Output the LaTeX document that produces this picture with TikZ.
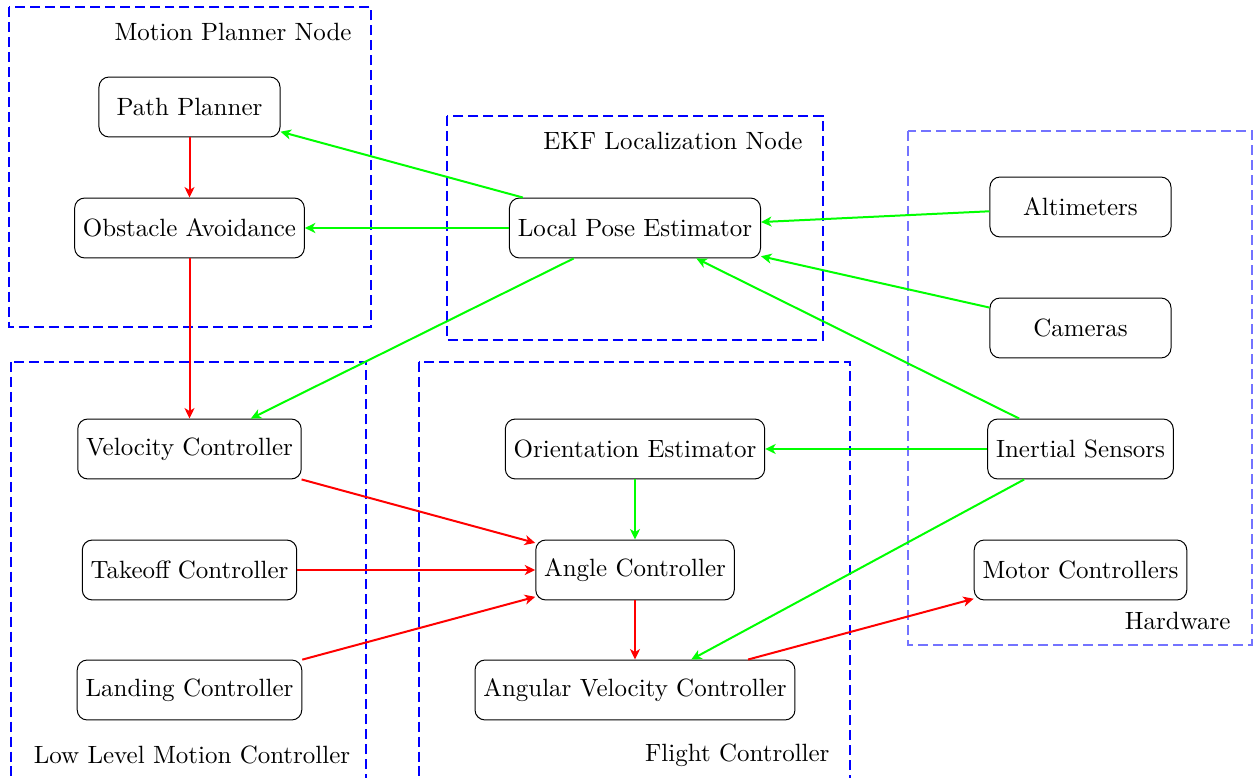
\documentclass[tikz,border=0pt]{standalone}
\usetikzlibrary{arrows.meta}
\begin{document}
\begin{tikzpicture}[x=0.4005pt,y=-0.4005pt,
  blk/.style={draw,rounded corners=4pt,minimum width=72.5pt,minimum height=24pt,inner sep=3.33pt},
  grp/.style={draw=blue,dash pattern=on 4pt off 2pt,line width=0.5pt},
  lbl/.style={inner sep=0pt},
  ga/.style={draw=green,line width=0.8pt,-{Stealth[length=4.2pt,width=4pt,inset=1.2pt]}},
  ra/.style={draw=red,line width=0.8pt,-{Stealth[length=4.2pt,width=4pt,inset=1.2pt]}}]
\useasboundingbox (0,0) rectangle (1253,778);
\begin{scope}
\clip (0,0) rectangle (1253,778);
% groups
\draw[grp] (9,7) rectangle (371,327);
\draw[grp] (447,116) rectangle (823,340);
\draw[grp,draw=blue!55] (908,131) rectangle (1252,645);
\draw[grp] (11,362) rectangle (366,800);
\draw[grp] (419,362) rectangle (850,800);
\end{scope}
\node[lbl,anchor=base east] (lmp) at (352,41) {Motion Planner Node};
\node[lbl,anchor=base east] (lekf) at (803,150) {EKF Localization Node};
\node[lbl,anchor=base east] (lhw) at (1231,630) {Hardware};
\node[lbl,anchor=base] (llow) at (192,763) {Low Level Motion Controller};
\node[lbl,anchor=base east] (lfc) at (830,761) {Flight Controller};
% nodes
\node[blk] (pp) at (189.5,107) {Path Planner};
\node[blk] (oa) at (189.5,228) {Obstacle Avoidance};
\node[blk] (vc) at (189.5,449) {Velocity Controller};
\node[blk] (tc) at (189.5,570) {Takeoff Controller};
\node[blk] (lc) at (189.5,690) {Landing Controller};
\node[blk] (lpe) at (635,228) {Local Pose Estimator};
\node[blk] (oe) at (635,449) {Orientation Estimator};
\node[blk] (ac) at (635,570) {Angle Controller};
\node[blk] (avc) at (635,690) {Angular Velocity Controller};
\node[blk] (alt) at (1080.5,207) {Altimeters};
\node[blk] (cam) at (1080.5,328) {Cameras};
\node[blk] (ins) at (1080.5,449) {Inertial Sensors};
\node[blk] (mc) at (1080.5,570) {Motor Controllers};
% red
\draw[ra] (pp) -- (oa);
\draw[ra] (oa) -- (vc);
\draw[ra] (vc) -- (ac);
\draw[ra] (tc) -- (ac);
\draw[ra] (lc) -- (ac);
\draw[ra] (ac) -- (avc);
\draw[ra] (avc) -- (mc);
% green
\draw[ga] (lpe) -- (pp);
\draw[ga] (lpe) -- (oa);
\draw[ga] (lpe) -- (vc);
\draw[ga] (alt) -- (lpe);
\draw[ga] (cam) -- (lpe);
\draw[ga] (ins) -- (lpe);
\draw[ga] (ins) -- (oe);
\draw[ga] (ins) -- (avc);
\draw[ga] (oe) -- (ac);
\end{tikzpicture}
\end{document}
